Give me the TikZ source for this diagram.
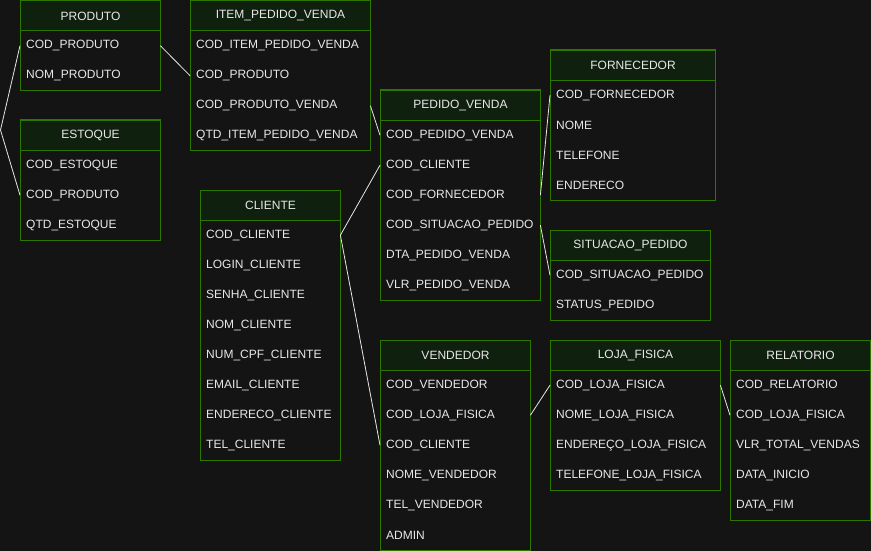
\documentclass[tikz,border=0pt]{standalone}
\usepackage{fontspec}
\setmainfont{Liberation Sans}
\definecolor{bg}{HTML}{141414}
\definecolor{hdrfill}{HTML}{10200F}
\definecolor{bordergreen}{HTML}{2D7600}
\definecolor{txt}{HTML}{E8E8E8}
\definecolor{linkc}{HTML}{E6E6E6}
\tikzset{
  erfont/.style={font=\fontsize{12}{14}\selectfont},
  hdr/.style={draw=bordergreen, fill=hdrfill, line width=1pt, text=txt, minimum height=30pt, inner sep=0pt, anchor=north west, erfont},
  rowcell/.style={text=txt, minimum height=30pt, inner xsep=6pt, inner ysep=0pt, anchor=north west, align=left, erfont},
  erborder/.style={draw=bordergreen, line width=1pt},
  link/.style={draw=linkc, line width=0.8pt},
}
% #1 name, #2 x, #3 y, #4 width, #5 rows, #6 header, #7 row list
\newcommand{\ertable}[7]{%
  \node[hdr, minimum width=#4pt] (#1-h) at (#2pt,-#3pt) {#6};
  \foreach \r [count=\i] in {#7} {
    \node[rowcell, minimum width=#4pt, text width={(#4-12)*1pt}] (#1-\i) at (#2pt,{-(#3+30*\i)*1pt}) {\r};
  }
  \draw[erborder] (#2pt,-#3pt) rectangle ({(#2+#4)*1pt},{-(#3+30*#5+30)*1pt});
}
\begin{document}
\begin{tikzpicture}[x=1pt,y=1pt]
\fill[bg] (0,0) rectangle (871,-551);
\useasboundingbox (0,0) rectangle (871,-551);

\ertable{prod}{20}{0.5}{140}{2}{PRODUTO}{COD\_PRODUTO,NOM\_PRODUTO}
\ertable{esto}{20}{120}{140}{3}{ESTOQUE}{COD\_ESTOQUE,COD\_PRODUTO,QTD\_ESTOQUE}
\ertable{item}{190}{0.5}{180}{4}{ITEM\_PEDIDO\_VENDA}{COD\_ITEM\_PEDIDO\_VENDA,COD\_PRODUTO,COD\_PRODUTO\_VENDA,QTD\_ITEM\_PEDIDO\_VENDA}
\ertable{ped}{380}{90}{160}{6}{PEDIDO\_VENDA}{COD\_PEDIDO\_VENDA,COD\_CLIENTE,COD\_FORNECEDOR,COD\_SITUACAO\_PEDIDO,DTA\_PEDIDO\_VENDA,VLR\_PEDIDO\_VENDA}
\ertable{forn}{550}{50}{165}{4}{FORNECEDOR}{COD\_FORNECEDOR,NOME,TELEFONE,ENDERECO}
\ertable{sit}{550}{230}{160}{2}{SITUACAO\_PEDIDO}{COD\_SITUACAO\_PEDIDO,STATUS\_PEDIDO}
\ertable{cli}{200}{190}{140}{8}{CLIENTE}{COD\_CLIENTE,LOGIN\_CLIENTE,SENHA\_CLIENTE,NOM\_CLIENTE,NUM\_CPF\_CLIENTE,EMAIL\_CLIENTE,ENDERECO\_CLIENTE,TEL\_CLIENTE}
\ertable{vend}{380}{340}{150}{6}{VENDEDOR}{COD\_VENDEDOR,COD\_LOJA\_FISICA,COD\_CLIENTE,NOME\_VENDEDOR,TEL\_VENDEDOR,ADMIN}
\ertable{loja}{550}{340}{170}{4}{LOJA\_FISICA}{COD\_LOJA\_FISICA,NOME\_LOJA\_FISICA,ENDEREÇO\_LOJA\_FISICA,TELEFONE\_LOJA\_FISICA}
\ertable{rel}{730}{340}{140}{5}{RELATORIO}{COD\_RELATORIO,COD\_LOJA\_FISICA,VLR\_TOTAL\_VENDAS,DATA\_INICIO,DATA\_FIM}

\coordinate (v1) at (0.5,-130);
\draw[link] (prod-1.west) -- (v1) -- (esto-2.west);
\draw[link] (prod-1.east) -- (item-2.west);
\draw[link] (item-3.east) -- (ped-1.west);
\draw[link] (ped-2.west) -- (cli-1.east);
\draw[link] (cli-1.east) -- (vend-3.west);
\draw[link] (ped-3.east) -- (forn-1.west);
\draw[link] (ped-4.east) -- (sit-1.west);
\draw[link] (vend-2.east) -- (loja-1.west);
\draw[link] (loja-1.east) -- (rel-2.west);
\end{tikzpicture}
\end{document}
